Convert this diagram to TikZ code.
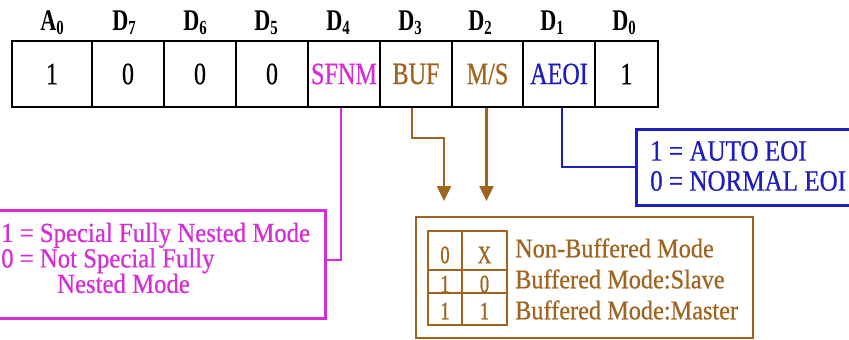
\documentclass[tikz,border=0pt]{standalone}
\usepackage{fontspec}
\setmainfont{Liberation Serif}
\newfontfamily\tfa[FakeStretch=0.9,FakeBold=0.6]{Liberation Serif}
\newfontfamily\tfb[FakeStretch=0.85,FakeBold=0.6]{Liberation Serif}
\newfontfamily\tfc[FakeStretch=0.75,FakeBold=0.6]{Liberation Serif}
\newfontfamily\tfd[FakeStretch=0.78,FakeBold=0.6]{Liberation Serif}
\newfontfamily\tfh[FakeStretch=0.74]{Liberation Serif}
\usetikzlibrary{arrows.meta}
\definecolor{mag}{RGB}{215,45,215}
\definecolor{brn}{RGB}{160,100,30}
\definecolor{blu}{RGB}{30,30,190}
\newcommand{\hd}[2]{{\tfh\bfseries\fontsize{30}{30}\selectfont #1\raisebox{-5pt}{\fontsize{20}{20}\selectfont #2}}}
\begin{document}
\begin{tikzpicture}[x=1pt,y=-1pt,
  cell/.style={draw=black, line width=2.5pt, minimum height=66pt, inner sep=0pt,
    font=\tfd\fontsize{31}{31}\selectfont},
  hdr/.style={inner sep=0pt, anchor=base},
  conn/.style={line width=2.5pt},
  tip/.style={-{Triangle[width=14pt,length=15pt]}},
  txt/.style={inner sep=0pt, anchor=west, align=left}]
\clip (0,0) rectangle (849,340);
\fill[white] (0,0) rectangle (849,340);
% register cells
\node[cell, minimum width=80pt] (c0) at (52,74) {1};
\node[cell, minimum width=72pt] (c1) at (128,74) {0};
\node[cell, minimum width=72pt] (c2) at (200,74) {0};
\node[cell, minimum width=72pt] (c3) at (272,74) {0};
\node[cell, minimum width=72pt, text=mag] (c4) at (344,74) {SFNM};
\node[cell, minimum width=72pt, text=brn] (c5) at (416,74) {BUF};
\node[cell, minimum width=71pt, text=brn] (c6) at (487.5,74) {M/S};
\node[cell, minimum width=72pt, text=blu] (c7) at (559,74) {AEOI};
\node[cell, minimum width=63pt] (c8) at (626.5,74) {1};
% headers
\node[hdr] (h0) at (52,30) {\hd{A}{0}};
\node[hdr] (h1) at (124,30) {\hd{D}{7}};
\node[hdr] (h2) at (195,30) {\hd{D}{6}};
\node[hdr] (h3) at (266,30) {\hd{D}{5}};
\node[hdr] (h4) at (338,30) {\hd{D}{4}};
\node[hdr] (h5) at (410,30) {\hd{D}{3}};
\node[hdr] (h6) at (480,30) {\hd{D}{2}};
\node[hdr] (h7) at (552,30) {\hd{D}{1}};
\node[hdr] (h8) at (624,30) {\hd{D}{0}};
% SFNM box
\node[draw=mag, line width=3pt, minimum width=335pt, minimum height=108pt, inner sep=0pt] (mbox) at (157.5,264) {};
\node[txt, text=mag, font=\tfa\fontsize{27.5}{25.5}\selectfont] (mtext) at (1,258)
  {1 = Special Fully Nested Mode\\0 = Not Special Fully\\\hspace*{56pt}Nested Mode};
\draw[conn, mag] ([xshift=-3pt]c4.south) |- ([yshift=4pt]mbox.east);
% BUF / MS box
\node[draw=brn, line width=2.5pt, minimum width=337pt, minimum height=121pt, inner sep=0pt] (bbox) at (584.5,277.5) {};
\draw[brn, line width=2.5pt] (428,231) rectangle (507,325);
\draw[brn, line width=2.5pt] (462,231) -- (462,325) (428,270) -- (507,270) (428,293) -- (507,293);
\begin{scope}[every node/.style={inner sep=0pt, text=brn, font=\tfc\fontsize{25}{25}\selectfont}]
\node (g11) at (445,255) {0};
\node (g12) at (484.5,255) {X};
\node (g21) at (445,284) {1};
\node (g22) at (484.5,284) {0};
\node (g31) at (445,311) {1};
\node (g32) at (484.5,311) {1};
\end{scope}
\node[txt, text=brn, font=\tfa\fontsize{27}{31}\selectfont] (btext) at (515,279)
  {Non-Buffered Mode\\Buffered Mode:Slave\\Buffered Mode:Master};
\coordinate (a1) at (444,201);
\coordinate (a2) at (486.5,201);
\draw[conn, brn, tip] ([xshift=-4pt]c5.south) -- ([xshift=-4pt]c5.south |- 0,138) -| (a1);
\draw[conn, brn, tip] (c6.south -| a2) -- (a2);
% AEOI box
\node[draw=blu, line width=3pt, minimum width=230pt, minimum height=76pt, inner sep=0pt] (ebox) at (751,167) {};
\node[txt, text=blu, font=\tfb\fontsize{29.5}{30}\selectfont] (etext) at (650,166)
  {1 = AUTO EOI\\0 = NORMAL EOI};
\draw[conn, blu] ([xshift=3pt]c7.south) |- (ebox.west);
\end{tikzpicture}
\end{document}
